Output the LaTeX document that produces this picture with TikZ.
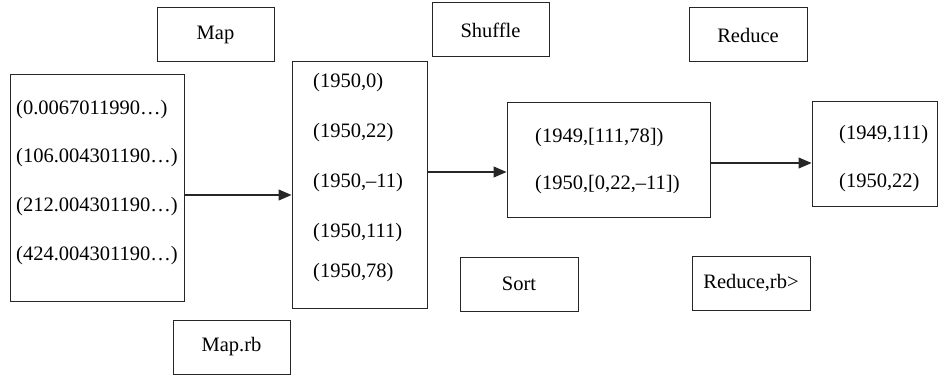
\documentclass[tikz,border=0pt]{standalone}
\usepackage{fontspec}
\setmainfont{Liberation Serif}
\usetikzlibrary{arrows.meta}
\begin{document}
\begin{tikzpicture}[x=1pt,y=-1pt,
  box/.style={draw=black!85,line width=1pt,inner sep=0pt,minimum width=#1},
  lbl/.style={font=\fontsize{20.5}{24}\selectfont},
  item/.style={font=\fontsize{20.5}{24}\selectfont,anchor=west,inner sep=0pt},
  arr/.style={draw=black!85,line width=1.2pt,-{Triangle[length=13pt,width=11pt]}}]
\useasboundingbox (0,0) rectangle (947,377);

% stage labels
\node[box=117pt,minimum height=54pt,lbl] (map)     at (215.5,35)  {Map};
\node[box=117pt,minimum height=54pt,lbl] (shuffle) at (490.5,30)  {Shuffle};
\node[box=118pt,minimum height=54pt,lbl] (reduce)  at (748,35)    {Reduce};
\node[box=118pt,minimum height=54pt,lbl] (sort)    at (519,284)   {Sort};
\node[box=118pt,minimum height=54pt,lbl] (redrb)   at (751,283)   {Reduce,rb>};
\node[box=117pt,minimum height=54pt,lbl] (maprb)   at (231.5,347) {Map.rb};

% data boxes
\node[box=174pt,minimum height=226pt] (in)  at (97,188)    {};
\node[box=135pt,minimum height=246pt] (mid) at (359.5,185) {};
\node[box=203pt,minimum height=114pt] (grp) at (608.5,160) {};
\node[box=125pt,minimum height=104pt] (out) at (874.5,154) {};

% input records
\node[item] (i1) at (16,110) {(0.0067011990…)};
\node[item] (i2) at (16,158) {(106.004301190…)};
\node[item] (i3) at (16,207) {(212.004301190…)};
\node[item] (i4) at (16,256) {(424.004301190…)};

% mapped pairs
\node[item] (m1) at (313,83)  {(1950,0)};
\node[item] (m2) at (313,133) {(1950,22)};
\node[item] (m3) at (313,183) {(1950,–11)};
\node[item] (m4) at (313,233) {(1950,111)};
\node[item] (m5) at (313,273) {(1950,78)};

% grouped pairs
\node[item] (g1) at (535,138) {(1949,[111,78])};
\node[item] (g2) at (535,185) {(1950,[0,22,–11])};

% reduced pairs
\node[item] (o1) at (839,135) {(1949,111)};
\node[item] (o2) at (839,183) {(1950,22)};

% flow
\draw[arr] (in.east |- 0,195) -- (mid.west |- 0,195);
\draw[arr] (mid.east |- 0,172) -- (grp.west |- 0,172);
\draw[arr] (grp.east |- 0,163) -- (out.west |- 0,163);
\end{tikzpicture}
\end{document}
